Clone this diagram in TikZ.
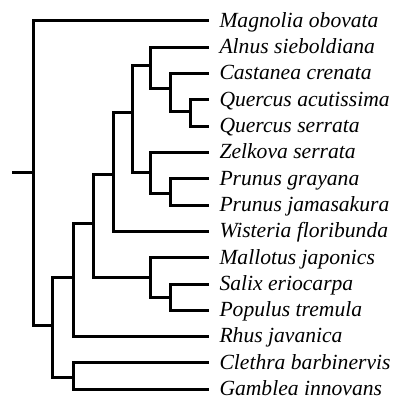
\documentclass[tikz,border=0pt]{standalone}
\usepackage{fontspec}
\setmainfont{Liberation Serif}
\usepackage{tikz}

\begin{document}
\begin{tikzpicture}[x=1pt, y=-1pt, line width=3pt,
    leaf/.style={anchor=base west, inner sep=0pt, yshift=-6.3pt,
        font=\fontsize{21.6}{24}\selectfont\itshape}]
    \useasboundingbox (0,0) rectangle (392,398);
    % species names, with the end of each branch
    \foreach \name/\txt [count=\i from 0] in {mo/Magnolia obovata, as/Alnus sieboldiana,
            cc/Castanea crenata, qa/Quercus acutissima, qs/Quercus serrata,
            zs/Zelkova serrata, pg/Prunus grayana, pj/Prunus jamasakura,
            wf/Wisteria floribunda, mj/Mallotus japonics, se/Salix eriocarpa,
            pt/Populus tremula, rj/Rhus javanica, cb/Clethra barbinervis,
            gi/Gamblea innovans}
    {
        \coordinate (\name) at (209,{21+26.3*\i});
        \node[leaf] (\name-t) at (218,{21+26.3*\i}) {\txt};
    }
    % branching points
    \coordinate (nQ) at (190,112);
    \coordinate (nC) at (170,89);
    \coordinate (nA) at (150,66);
    \coordinate (nP) at (170,193);
    \coordinate (nZ) at (150,172);
    \coordinate (nAZ) at (132,113);
    \coordinate (nW) at (113,174);
    \coordinate (nSP) at (170,297);
    \coordinate (nM) at (150,277);
    \coordinate (nE) at (93,223);
    \coordinate (nR) at (73,277);
    \coordinate (nCG) at (73,377);
    \coordinate (nB) at (52,325);
    \coordinate (root) at (33,172);
    \coordinate (stub) at (12,172);
    % tree
    \draw (nQ) |- (qa);
    \draw (nQ) |- (qs);
    \draw (nC) |- (cc);
    \draw (nC) |- (nQ);
    \draw (nA) |- (as);
    \draw (nA) |- (nC);
    \draw (nP) |- (pg);
    \draw (nP) |- (pj);
    \draw (nZ) |- (zs);
    \draw (nZ) |- (nP);
    \draw (nAZ) |- (nA);
    \draw (nAZ) |- (nZ);
    \draw (nW) |- (nAZ);
    \draw (nW) |- (wf);
    \draw (nSP) |- (se);
    \draw (nSP) |- (pt);
    \draw (nM) |- (mj);
    \draw (nM) |- (nSP);
    \draw (nE) |- (nW);
    \draw (nE) |- (nM);
    \draw (nR) |- (nE);
    \draw (nR) |- (rj);
    \draw (nCG) |- (cb);
    \draw (nCG) |- (gi);
    \draw (nB) |- (nR);
    \draw (nB) |- (nCG);
    \draw (root) |- (mo);
    \draw (root) |- (nB);
    \draw (stub) -- (root);
\end{tikzpicture}
\end{document}
